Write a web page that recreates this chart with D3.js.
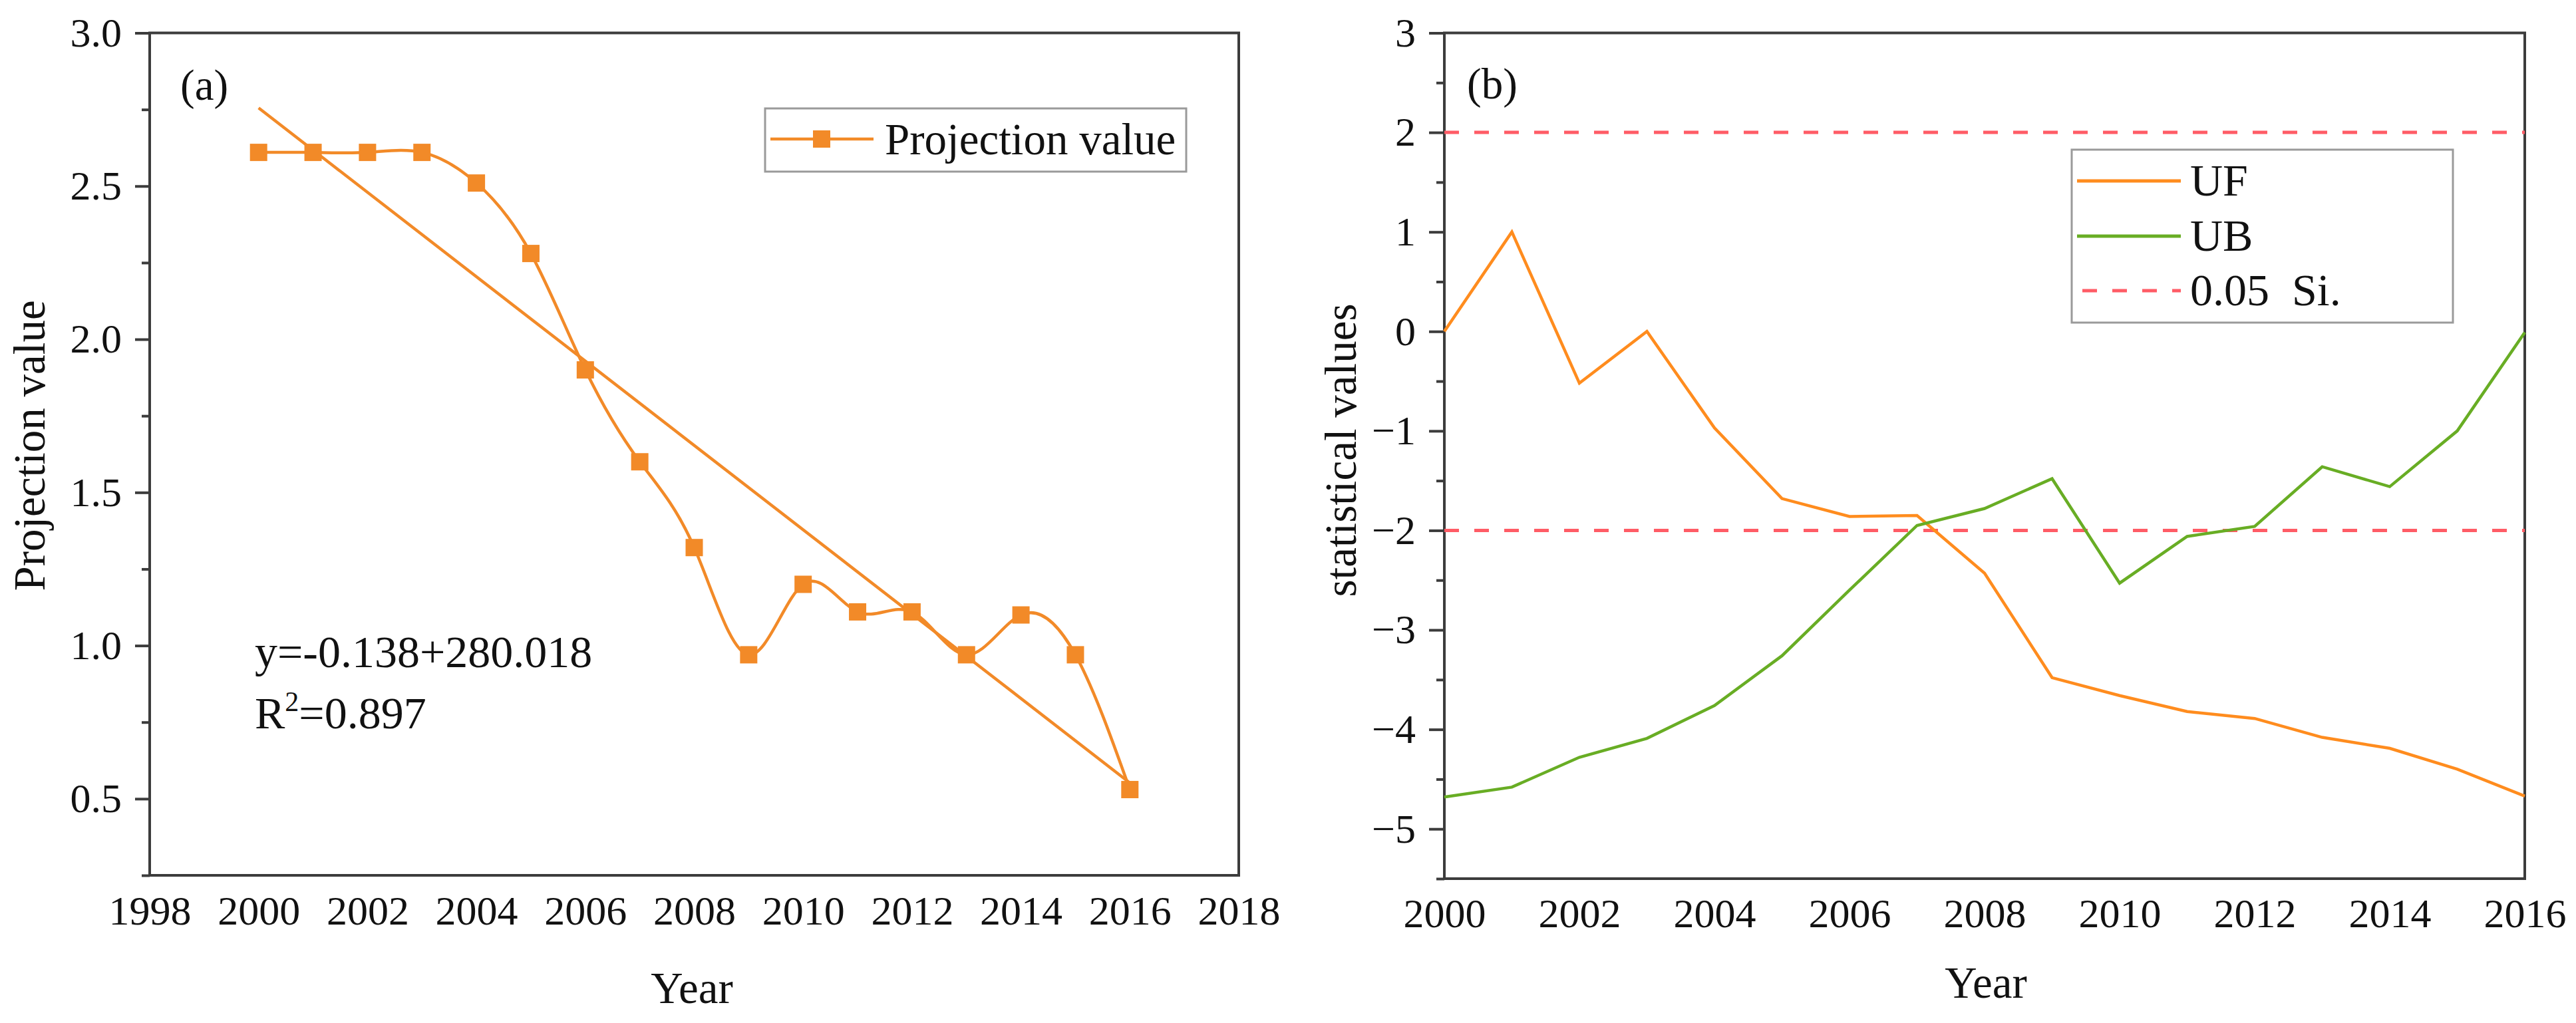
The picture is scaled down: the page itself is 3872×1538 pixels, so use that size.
<!DOCTYPE html>
<html>
<head>
<meta charset="utf-8">
<script src="https://cdn.jsdelivr.net/npm/d3@7"></script>
<style>
  body { margin: 0; background: #fff; }
  svg text { font-family: "Liberation Serif", "Times New Roman", serif !important; fill: #111; }
</style>
</head>
<body>
<div id="canvas"></div>
<script>
// panel (a)
const projYears = [2000, 2001, 2002, 2003, 2004, 2005, 2006, 2007, 2008, 2009, 2010, 2011, 2012, 2013, 2014, 2015, 2016];
const projValues = [2.61, 2.61, 2.61, 2.61, 2.51, 2.28, 1.90, 1.60, 1.32, 0.97, 1.20, 1.11, 1.11, 0.97, 1.10, 0.97, 0.53];
const trendYears = [2000, 2016];
const trendValues = [2.755, 0.552];
const leftXTicks = [1998, 2000, 2002, 2004, 2006, 2008, 2010, 2012, 2014, 2016, 2018];
const leftYTicks = [0.5, 1.0, 1.5, 2.0, 2.5, 3.0];
const leftYMinor = [0.25, 0.75, 1.25, 1.75, 2.25, 2.75];

// panel (b)
const mkYears = [2000, 2001, 2002, 2003, 2004, 2005, 2006, 2007, 2008, 2009, 2010, 2011, 2012, 2013, 2014, 2015, 2016];
const ufValues = [0, 1.0, -0.52, 0, -0.97, -1.68, -1.86, -1.85, -2.43, -3.48, -3.66, -3.82, -3.89, -4.08, -4.19, -4.40, -4.67];
const ubValues = [-4.68, -4.58, -4.28, -4.09, -3.76, -3.26, -2.60, -1.95, -1.78, -1.48, -2.53, -2.06, -1.96, -1.36, -1.56, -1.0, -0.01];
const sigLevels = [2, -2];
const rightXTicks = [2000, 2002, 2004, 2006, 2008, 2010, 2012, 2014, 2016];
const rightYTicks = [-5, -4, -3, -2, -1, 0, 1, 2, 3];
const rightYMinor = [-5.5, -4.5, -3.5, -2.5, -1.5, -0.5, 0.5, 1.5, 2.5];

const serif = "Liberation Serif, Times New Roman, serif";
const axisColor = "#3c3c3c";
const projColor = "#f28a28";
const ufColor = "#ff8c1e";
const ubColor = "#68ad24";
const sigColor = "#ff5c66";

const svg = d3
  .select("#canvas")
  .append("svg")
  .attr("width", 3872)
  .attr("height", 1538)
  .attr("font-family", serif);

svg.append("rect").attr("width", 3872).attr("height", 1538).attr("fill", "#fff");

const styleAxis = (g, size) => {
  g.attr("font-family", serif).attr("font-size", size);
  g.select(".domain").remove();
  g.selectAll(".tick line").attr("stroke", axisColor).attr("stroke-width", 4);
  g.selectAll(".tick text")
    .attr("font-family", serif)
    .attr("font-size", size)
    .attr("fill", "#111");
};

// ---------- panel (a) ----------
const xA = d3.scaleLinear().domain([1998, 2018]).range([225, 1862]);
const yA = d3.scaleLinear().domain([0.25, 3]).range([1316, 49.5]);

svg.append("g")
  .attr("transform", "translate(225,0)")
  .call(d3.axisLeft(yA).tickValues(leftYMinor).tickSize(12).tickFormat(""))
  .call((g) => styleAxis(g, 62));

svg.append("g")
  .attr("transform", "translate(225,0)")
  .call(d3.axisLeft(yA).tickValues(leftYTicks).tickSize(22).tickPadding(20).tickFormat(d3.format(".1f")))
  .call((g) => styleAxis(g, 62));

svg.append("g")
  .attr("transform", "translate(0,1316)")
  .call(d3.axisBottom(xA).tickValues(leftXTicks).tickSize(0).tickPadding(30).tickFormat(d3.format("d")))
  .call((g) => styleAxis(g, 62));

svg.append("rect")
  .attr("x", xA(1998)).attr("y", yA(3))
  .attr("width", xA(2018) - xA(1998)).attr("height", yA(0.25) - yA(3))
  .attr("fill", "none").attr("stroke", axisColor).attr("stroke-width", 4);

const projPts = projYears.map((d, i) => [d, projValues[i]]);

svg.append("path")
  .datum(trendYears.map((d, i) => [d, trendValues[i]]))
  .attr("fill", "none").attr("stroke", projColor).attr("stroke-width", 4.5)
  .attr("d", d3.line().x((d) => xA(d[0])).y((d) => yA(d[1])));

svg.append("path")
  .datum(projPts)
  .attr("fill", "none").attr("stroke", projColor).attr("stroke-width", 4.5)
  .attr("d", d3.line().x((d) => xA(d[0])).y((d) => yA(d[1])).curve(d3.curveNatural));

svg.selectAll(".sq")
  .data(projPts)
  .join("rect")
  .attr("class", "sq")
  .attr("x", (d) => xA(d[0]) - 13)
  .attr("y", (d) => yA(d[1]) - 13)
  .attr("width", 26).attr("height", 26)
  .attr("fill", projColor);

svg.append("text").attr("x", 271).attr("y", 150).style("font-size", "65px").text("(a)");

svg.append("text").attr("x", 383).attr("y", 1003).style("font-size", "68px").text("y=-0.138+280.018");
const r2 = svg.append("text").attr("x", 383).attr("y", 1095).style("font-size", "68px");
r2.append("tspan").text("R");
r2.append("tspan").attr("dy", -26).style("font-size", "42px").text("2");
r2.append("tspan").attr("dy", 26).text("=0.897");

svg.append("text")
  .attr("transform", "translate(67,670) rotate(-90)")
  .style("text-anchor", "middle").style("font-size", "67px")
  .text("Projection value");

svg.append("text")
  .attr("x", 1040).attr("y", 1508)
  .style("text-anchor", "middle").style("font-size", "67px")
  .text("Year");

// legend (a)
const legA = svg.append("g");
legA.append("rect")
  .attr("x", 1150).attr("y", 163).attr("width", 633).attr("height", 95)
  .attr("fill", "#fff").attr("stroke", "#9a9a9a").attr("stroke-width", 3);
legA.append("line")
  .attr("x1", 1158).attr("x2", 1313).attr("y1", 209).attr("y2", 209)
  .attr("stroke", projColor).attr("stroke-width", 4.5);
legA.append("rect")
  .attr("x", 1222).attr("y", 196).attr("width", 26).attr("height", 26)
  .attr("fill", projColor);
legA.append("text").attr("x", 1330).attr("y", 232).style("font-size", "67px").text("Projection value");

// ---------- panel (b) ----------
const xB = d3.scaleLinear().domain([2000, 2016]).range([2171, 3795]);
const yB = d3.scaleLinear().domain([-5.5, 3]).range([1321, 49.5]);

const signed = (d) => (d < 0 ? "\u2212" + Math.abs(d) : String(d));

svg.append("g")
  .attr("transform", "translate(2171,0)")
  .call(d3.axisLeft(yB).tickValues(rightYMinor).tickSize(12).tickFormat(""))
  .call((g) => styleAxis(g, 62));

svg.append("g")
  .attr("transform", "translate(2171,0)")
  .call(d3.axisLeft(yB).tickValues(rightYTicks).tickSize(23).tickPadding(20).tickFormat(signed))
  .call((g) => styleAxis(g, 62));

svg.append("g")
  .attr("transform", "translate(0,1321)")
  .call(d3.axisBottom(xB).tickValues(rightXTicks).tickSize(0).tickPadding(29).tickFormat(d3.format("d")))
  .call((g) => styleAxis(g, 62));

svg.append("rect")
  .attr("x", xB(2000)).attr("y", yB(3))
  .attr("width", xB(2016) - xB(2000)).attr("height", yB(-5.5) - yB(3))
  .attr("fill", "none").attr("stroke", axisColor).attr("stroke-width", 4);

svg.selectAll(".sig")
  .data(sigLevels)
  .join("line")
  .attr("class", "sig")
  .attr("x1", xB(2000)).attr("x2", xB(2016))
  .attr("y1", (d) => yB(d)).attr("y2", (d) => yB(d))
  .attr("stroke", sigColor).attr("stroke-width", 5)
  .attr("stroke-dasharray", "22,23");

const lineB = d3.line().x((d) => xB(d[0])).y((d) => yB(d[1]));

svg.append("path")
  .datum(mkYears.map((d, i) => [d, ufValues[i]]))
  .attr("fill", "none").attr("stroke", ufColor).attr("stroke-width", 4.5)
  .attr("d", lineB);

svg.append("path")
  .datum(mkYears.map((d, i) => [d, ubValues[i]]))
  .attr("fill", "none").attr("stroke", ubColor).attr("stroke-width", 4.5)
  .attr("d", lineB);

svg.append("text").attr("x", 2205).attr("y", 148).style("font-size", "65px").text("(b)");

svg.append("text")
  .attr("transform", "translate(2038,677) rotate(-90)")
  .style("text-anchor", "middle").style("font-size", "67px")
  .text("statistical values");

svg.append("text")
  .attr("x", 2985).attr("y", 1500)
  .style("text-anchor", "middle").style("font-size", "67px")
  .text("Year");

// legend (b)
const legB = svg.append("g");
legB.append("rect")
  .attr("x", 3114).attr("y", 225).attr("width", 573).attr("height", 260)
  .attr("fill", "#fff").attr("stroke", "#9a9a9a").attr("stroke-width", 3);

const legItems = [
  { label: "UF", color: ufColor, dash: null, y: 272 },
  { label: "UB", color: ubColor, dash: null, y: 355 },
  { label: "0.05  Si.", color: sigColor, dash: "22,23", y: 437 },
];

legItems.forEach((d) => {
  legB.append("line")
    .attr("x1", d.dash ? 3130 : 3122).attr("x2", 3278)
    .attr("y1", d.y).attr("y2", d.y)
    .attr("stroke", d.color).attr("stroke-width", 5)
    .attr("stroke-dasharray", d.dash);
  legB.append("text")
    .attr("x", 3292).attr("y", d.y + 22)
    .style("font-size", "68px")
    .style("white-space", "pre")
    .text(d.label);
});
</script>
</body>
</html>
